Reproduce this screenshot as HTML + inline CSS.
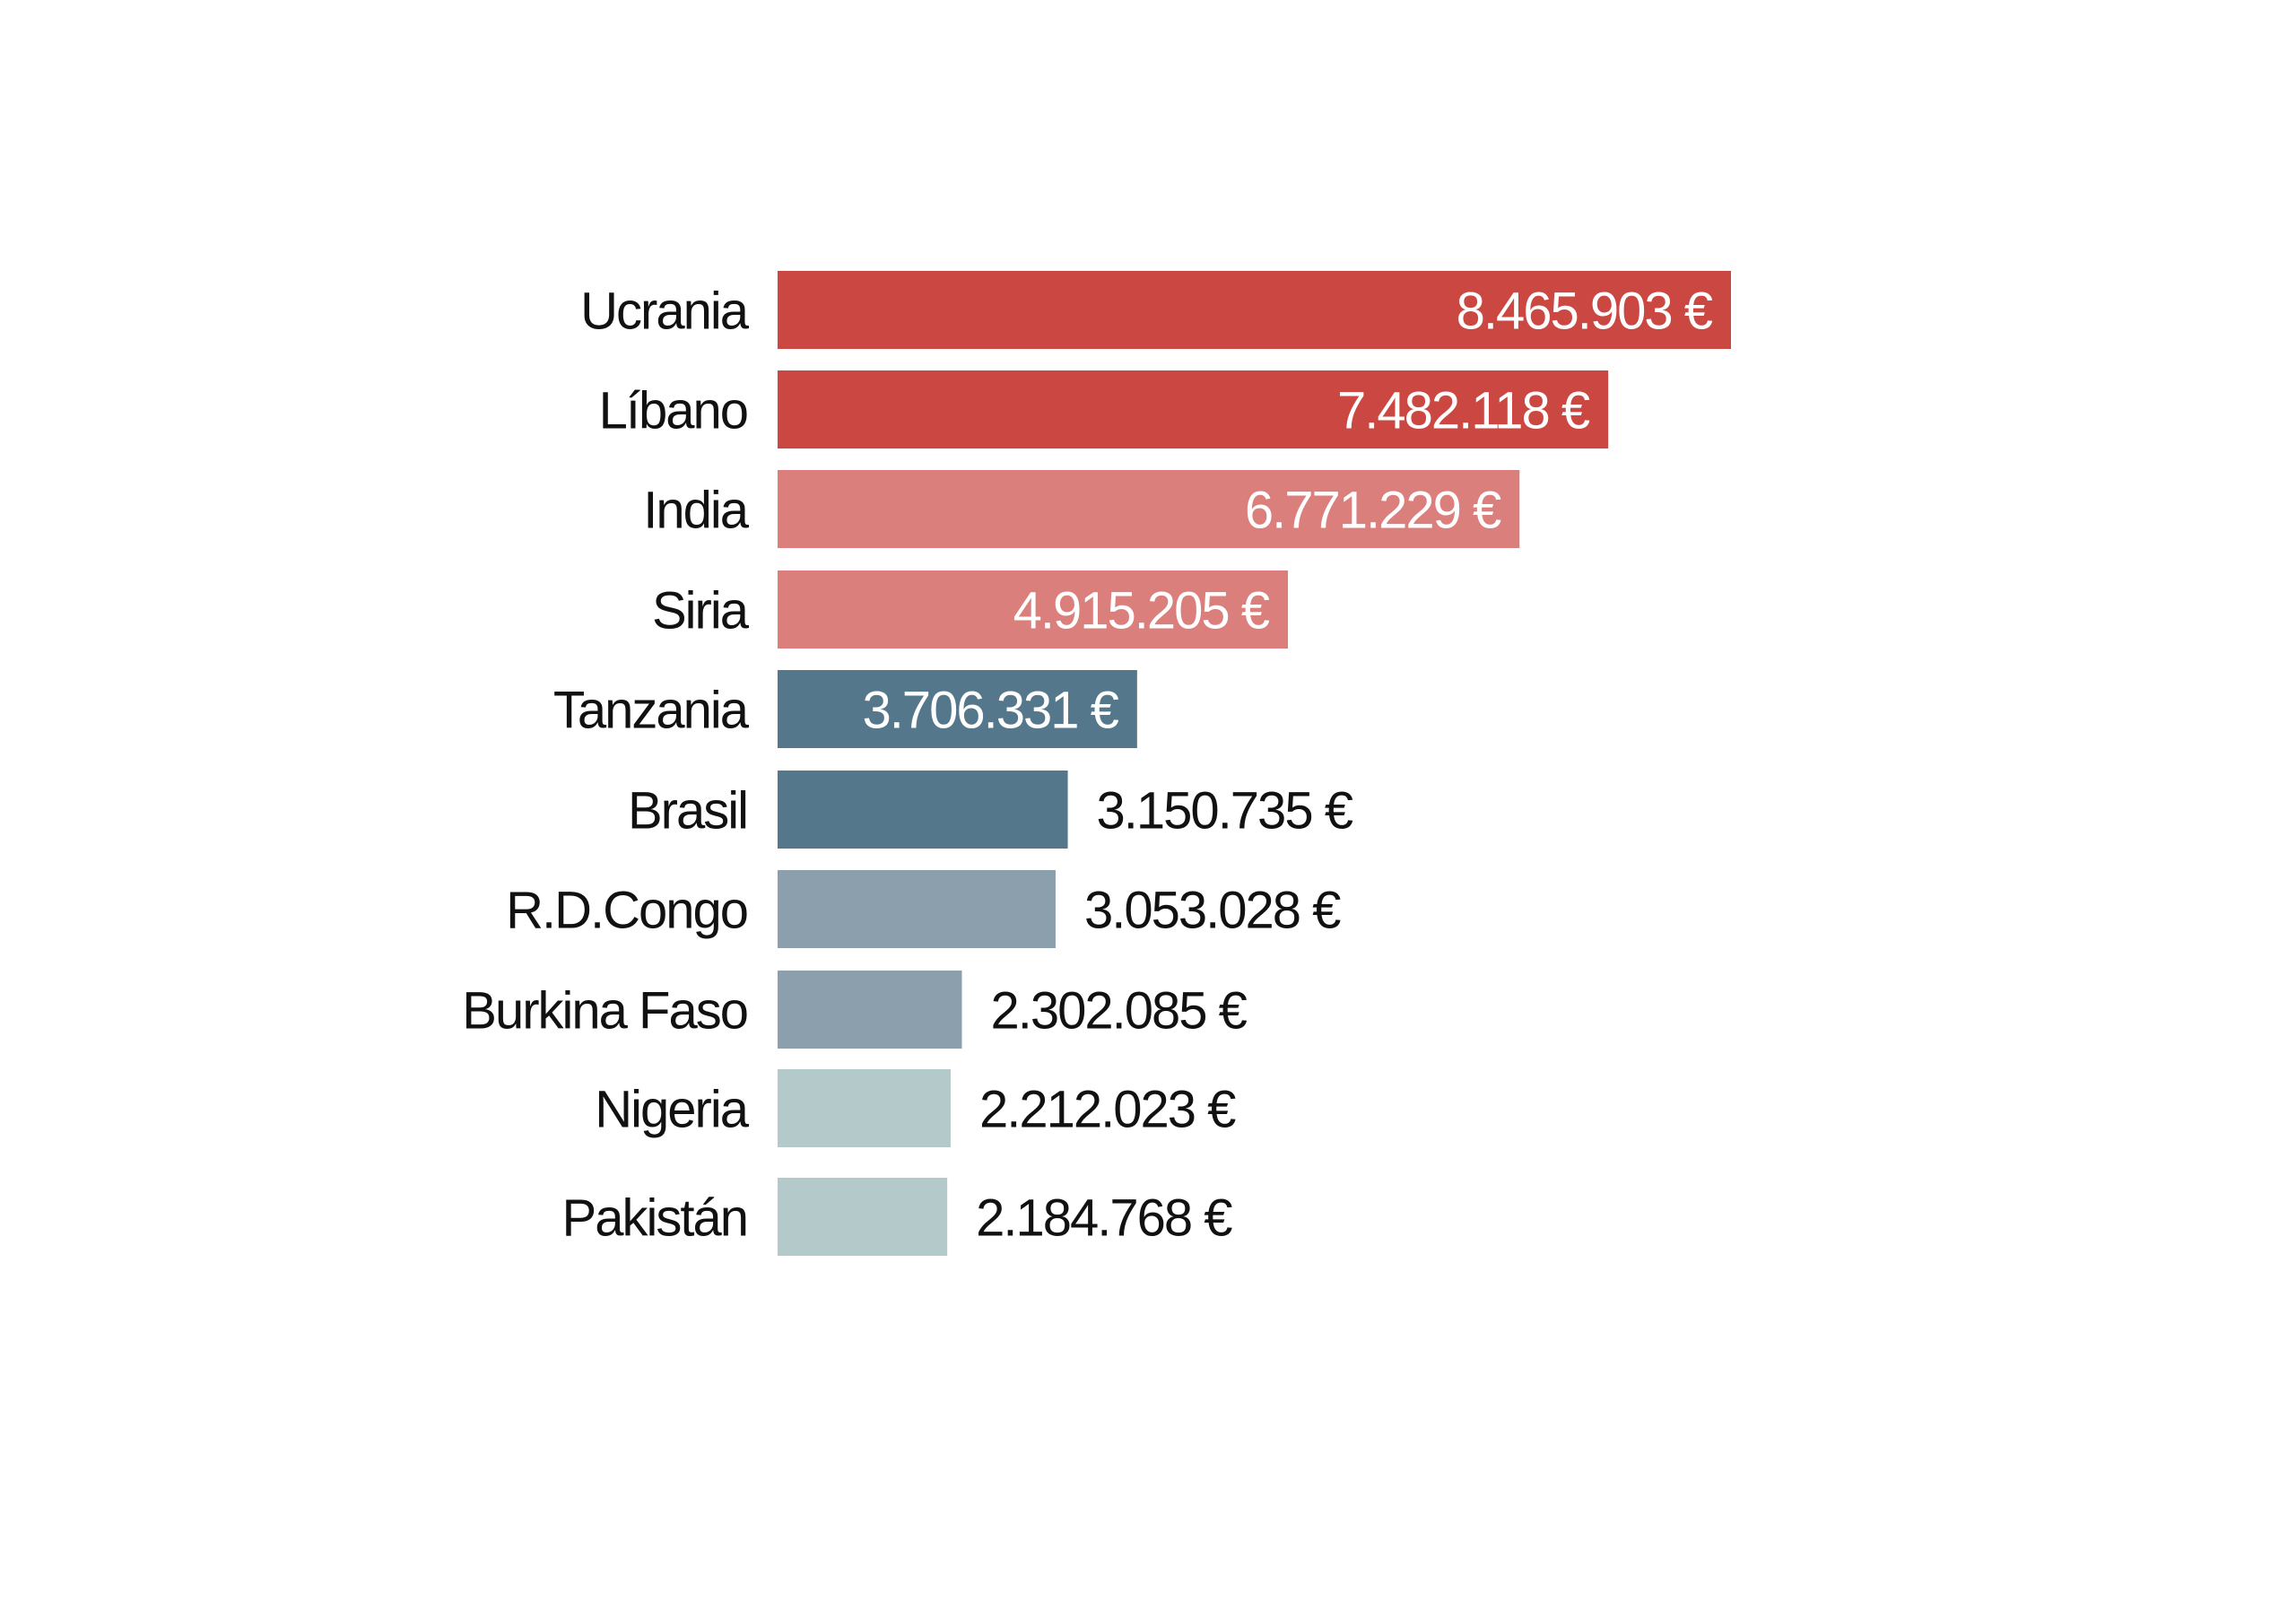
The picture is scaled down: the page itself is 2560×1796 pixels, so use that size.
<!DOCTYPE html>
<html><head><meta charset="utf-8">
<style>
html,body{margin:0;padding:0;background:#fff;}
svg{display:block;}
text{font-family:"Liberation Sans",sans-serif;}
</style></head>
<body>
<svg id="chart" width="2560" height="1796" viewBox="0 0 2560 1796" xmlns="http://www.w3.org/2000/svg">
<rect width="2560" height="1796" fill="#fff"/>
<g id="bars"></g>
</svg>
<script>
const categories = ["Ucrania","Líbano","India","Siria","Tanzania","Brasil","R.D.Congo","Burkina Faso","Nigeria","Pakistán"];
const values = [8465903,7482118,6771229,4915205,3706331,3150735,3053028,2302085,2212023,2184768];
const valueLabels = ["8.465.903 €","7.482.118 €","6.771.229 €","4.915.205 €","3.706.331 €","3.150.735 €","3.053.028 €","2.302.085 €","2.212.023 €","2.184.768 €"];
const colors = ["#cb4741","#cb4741","#da7f7b","#da7f7b","#54778b","#54778b","#8b9fac","#8b9fac","#b3c9ca","#b3c9ca"];

const x0 = 867, barH = 87;
const domainMin = 825000;
const k = (1930 - x0) / (values[0] - domainMin);
function xScale(v){ return x0 + (v - domainMin) * k; }
const tops = [302,413,524,636,747,859,970,1082,1192,1313];
function yScale(i){ return tops[i]; }

const NS = "http://www.w3.org/2000/svg";
const g = document.getElementById("bars");
categories.forEach((c,i)=>{
  const y = yScale(i), xr = xScale(values[i]);
  const r = document.createElementNS(NS,"rect");
  
  
  r.setAttribute("x", x0); r.setAttribute("y", y);
  r.setAttribute("width", xr - x0); r.setAttribute("height", barH);
  r.setAttribute("fill", colors[i]);
  g.appendChild(r);

  const t = document.createElementNS(NS,"text");
  
  
  t.setAttribute("x", 833); t.setAttribute("y", y + barH/2 + 21);
  t.setAttribute("text-anchor","end");
  t.setAttribute("font-size","58");
  t.setAttribute("letter-spacing","-2");
  t.setAttribute("fill","#111");
  t.textContent = c;
  g.appendChild(t);

  const inside = values[i] > 3500000;
  const v = document.createElementNS(NS,"text");
  
  
  v.setAttribute("y", y + barH/2 + 21);
  v.setAttribute("font-size","58");
  v.setAttribute("letter-spacing","-2");
  if(inside){
    v.setAttribute("x", xr - 22);
    v.setAttribute("text-anchor","end");
    v.setAttribute("fill","#fff");
  } else {
    v.setAttribute("x", xr + 32);
    v.setAttribute("text-anchor","start");
    v.setAttribute("fill","#111");
  }
  v.textContent = valueLabels[i];
  g.appendChild(v);
});
</script>
</body></html>
